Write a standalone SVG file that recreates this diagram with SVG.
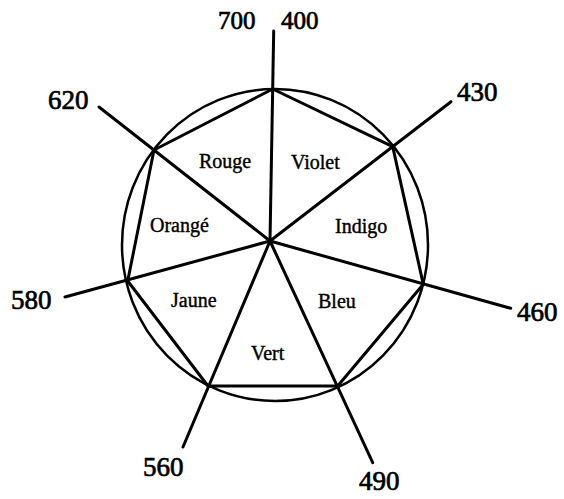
<svg xmlns="http://www.w3.org/2000/svg" width="564" height="499" viewBox="0 0 564 499">
<style>
.ln{stroke:#000;stroke-width:3;fill:none;stroke-linecap:round;stroke-linejoin:round}
.circ{stroke:#000;stroke-width:2.5;fill:none}
.num{font-family:"Liberation Serif","Times New Roman",serif;font-size:27px;fill:#000;stroke:#000;stroke-width:0.7}
.top{font-size:25px}
.lab{font-family:"Liberation Serif","Times New Roman",serif;font-size:20px;fill:#000;stroke:#000;stroke-width:0.4}
</style>
<rect width="564" height="499" fill="#fff"/>
<g id="circle"><ellipse class="circ" cx="275" cy="245" rx="153" ry="156"/></g>
<g id="connectors">
<polygon class="ln" points="272.7,89 392.7,146.7 423.3,284.3 337.7,386 208,386 127.7,281 154,150"/>
<line class="ln" x1="270" y1="241" x2="273.7" y2="31"/>
<line class="ln" x1="270" y1="241" x2="99" y2="107"/>
<line class="ln" x1="270" y1="241" x2="451" y2="101.7"/>
<line class="ln" x1="270" y1="241" x2="65" y2="297"/>
<line class="ln" x1="270" y1="241" x2="183" y2="447"/>
<line class="ln" x1="270" y1="241" x2="510.7" y2="308.3"/>
<line class="ln" x1="270" y1="241" x2="372.7" y2="462.7"/>
</g>
<g id="n700"><text class="num top" x="218" y="29">700</text></g>
<g id="n400"><text class="num top" x="281" y="29">400</text></g>
<g id="n620"><text class="num" x="48" y="109">620</text></g>
<g id="n430"><text class="num" x="457" y="101">430</text></g>
<g id="n580"><text class="num" x="11" y="309">580</text></g>
<g id="n460"><text class="num" x="517" y="321">460</text></g>
<g id="n560"><text class="num" x="143" y="476">560</text></g>
<g id="n490"><text class="num" x="359" y="490">490</text></g>
<g id="rouge"><text class="lab" x="199" y="168">Rouge</text></g>
<g id="violet"><text class="lab" x="291" y="169">Violet</text></g>
<g id="orange"><text class="lab" x="150" y="232">Orangé</text></g>
<g id="indigo"><text class="lab" x="335" y="233">Indigo</text></g>
<g id="jaune"><text class="lab" x="171" y="307">Jaune</text></g>
<g id="bleu"><text class="lab" x="318" y="308">Bleu</text></g>
<g id="vert"><text class="lab" x="251" y="360">Vert</text></g>
</svg>
